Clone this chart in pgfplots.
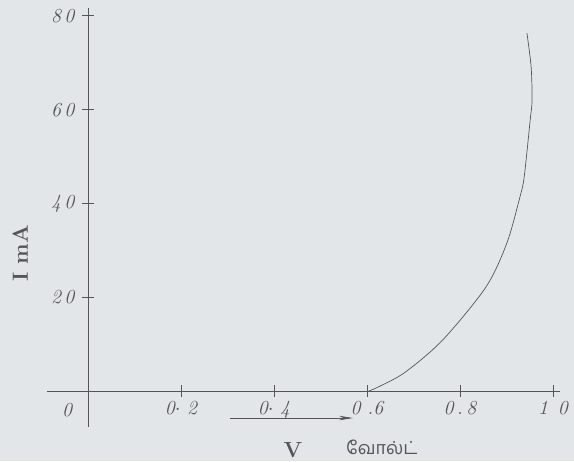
\documentclass[border=0pt]{standalone}
\usepackage{pgfplots}
\pgfplotsset{compat=1.18}
\usepackage{fontspec}
\newfontfamily\tamilfont[Script=Tamil]{Hind Madurai}
\usetikzlibrary{backgrounds,arrows.meta}
\definecolor{bg}{RGB}{227,230,232}
\definecolor{ink}{RGB}{85,85,88}
\begin{document}
\begin{tikzpicture}
\begin{axis}[
  scale only axis, width=513bp, height=419bp,
  xmin=-0.0882, xmax=1.0151, ymin=-7.68, ymax=81.66,
  axis lines=middle, axis line style={ink, line width=0.75pt, -},
  clip=false,
  xtick={0.2,0.4,0.6,0.8,1.0}, ytick={20,40,60,80},
  xticklabels={{0$\cdot$\,\,2},{0$\cdot$\,\,4},{0\,\,.6},{0\,.\,8},{1\,\,\,0}},
  yticklabels={{2\,0},{4\,0},{6\,0},{8\,0}},
  tick align=center, major tick length=12bp,
  tick style={ink, line width=0.75pt},
  ticklabel style={font=\fontsize{20}{24}\selectfont\itshape, text=ink},
  xticklabel style={yshift=-1bp},
  yticklabel style={xshift=-4bp},
]
\addplot[ink, line width=0.7pt, smooth, tension=0.5] coordinates {
  (0.604,0) (0.625,0.9) (0.682,4.0) (0.763,10.9) (0.856,22.2) (0.901,31.6)
  (0.929,41.4) (0.938,45.6) (0.951,57.8) (0.955,62.0) (0.953,69.1) (0.944,76.3)
};
\addplot[ink, line width=0.7pt, -{Stealth[length=14bp,width=4.5bp]}] coordinates {(0.305,-5.76) (0.570,-5.76)};
\node[text=ink, font=\fontsize{20}{24}\selectfont\itshape] at (axis cs:-0.045,-4.05) {0};
\node[text=ink, font=\fontsize{22}{26}\selectfont\bfseries] at (axis cs:0.441,-12.5) {V};
\node[text=ink, font=\fontsize{18}{22}\selectfont\tamilfont] at (axis cs:0.632,-12.0) {வோல்ட்};
\node[text=ink, rotate=90, font=\fontsize{22}{26}\selectfont\bfseries] at (axis cs:-0.146,29.4) {I mA};
\coordinate (bl) at (axis cs:-0.1892,-14.93);
\coordinate (tr) at (axis cs:1.0452,83.37);
\end{axis}
\begin{scope}[on background layer]
\fill[bg] (bl) rectangle (tr);
\end{scope}
\pgfresetboundingbox
\path[use as bounding box] (bl) rectangle (tr);
\end{tikzpicture}
\end{document}
